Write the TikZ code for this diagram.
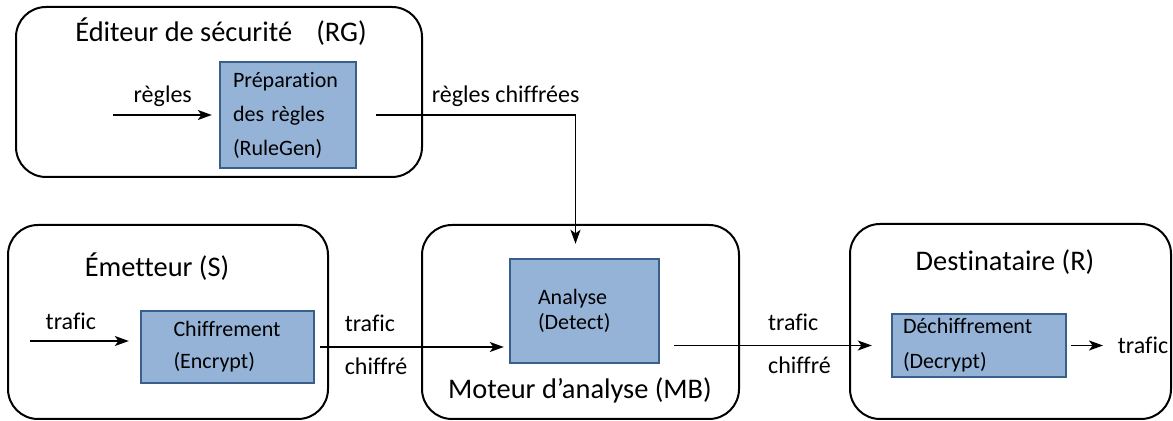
\documentclass[tikz,border=0pt]{standalone}
\usepackage{fontspec}
\setmainfont{Carlito}[Ligatures=NoCommon]
\usepackage{xcolor}
\usepackage{tikz}
\usetikzlibrary{arrows.meta}

\definecolor{bleuclair}{HTML}{95B3D7}
\definecolor{bleufonce}{HTML}{3A5F8B}

\begin{document}
\begin{tikzpicture}[x=0.5pt, y=-0.5pt,
        entite/.style={draw, line width=1pt, rounded corners=15pt},
        bloc/.style={draw=bleufonce, fill=bleuclair, line width=1.2pt, align=left, inner sep=0pt},
        titre/.style={inner sep=0pt, font=\fontsize{14.2}{17}\selectfont},
        lbl/.style={inner sep=0pt, font=\fontsize{12}{14}\selectfont},
        fleche/.style={line width=0.9pt, -{Stealth[length=7pt, width=5pt, inset=1.8pt]}}]
            \useasboundingbox (0,0) rectangle (1173,421);

            % Entities
            \node[entite, minimum width=203pt, minimum height=85pt] (RG) at (219,92) {};
            \node[entite, minimum width=160pt, minimum height=97pt] (S) at (168,322) {};
            \node[entite, minimum width=158.5pt, minimum height=97pt] (MB) at (580.5,322) {};
            \node[entite, minimum width=160.5pt, minimum height=97.5pt] (R) at (1010.5,321.5) {};

            \node[titre] (tRG) at (221,32) {Éditeur de sécurité\hspace{.85em}(RG)};
            \node[titre] (tS) at (157,267) {Émetteur (S)};
            \node[titre] (tMB) at (580,390) {Moteur d’analyse (MB)};
            \node[titre] (tR) at (1005,262) {Destinataire (R)};

            % Processing blocks
            \node[bloc, minimum width=68pt, minimum height=53pt, text width=55pt,
                font=\fontsize{11}{17}\selectfont] (prep) at (288,115) {Préparation\\des règles\\(RuleGen)};
            \node[bloc, minimum width=86.5pt, minimum height=36pt, text width=54pt,
                font=\fontsize{11}{16}\selectfont] (enc) at (227.5,347) {Chiffrement\\(Encrypt)};
            \node[bloc, minimum width=74.5pt, minimum height=52pt, text width=46.5pt,
                font=\fontsize{11}{12.5}\selectfont] (det) at (584.5,311) {Analyse\\(Detect)};
            \node[bloc, minimum width=87pt, minimum height=31.5pt, text width=76pt,
                font=\fontsize{11}{17.5}\selectfont] (dec) at (979,345.5) {Déchiffrement\\(Decrypt)};

            % Flows
            \coordinate (inRG) at (113,115);
            \draw[fleche, shorten >=3.5pt] (inRG) -- (prep.west)
                node[lbl, pos=.187, anchor=base west, yshift=6.25pt] {règles};
            \draw[fleche, shorten <=9.5pt, shorten >=7pt] (prep.east) -| ([xshift=-4.5pt]det.north)
                node[lbl, pos=.169, anchor=base west, yshift=6pt] {règles chiffrées};

            \coordinate (inS) at (30,341);
            \draw[fleche, shorten >=5.5pt] (inS) -- (inS -| enc.west)
                node[lbl, pos=.135, anchor=base west, yshift=5.5pt] {trafic};
            \draw[fleche, shorten <=2.5pt, shorten >=2.5pt] (enc.east) -- (enc.east -| det.west)
                node[lbl, pos=.148, anchor=base west, yshift=7.5pt] {trafic}
                node[lbl, pos=.148, anchor=base west, yshift=-14pt] {chiffré};
            \draw[fleche, shorten <=7pt, shorten >=9.5pt] (det.east |- dec.west) -- (dec.west)
                node[lbl, pos=.464, anchor=base west, yshift=7.5pt] {trafic}
                node[lbl, pos=.464, anchor=base west, yshift=-14pt] {chiffré};

            \coordinate (outR) at (1103,345.5);
            \draw[fleche, shorten <=2pt] (dec.east) -- (outR)
                node[lbl, anchor=west, xshift=7pt] {trafic};
        \end{tikzpicture}
\end{document}
